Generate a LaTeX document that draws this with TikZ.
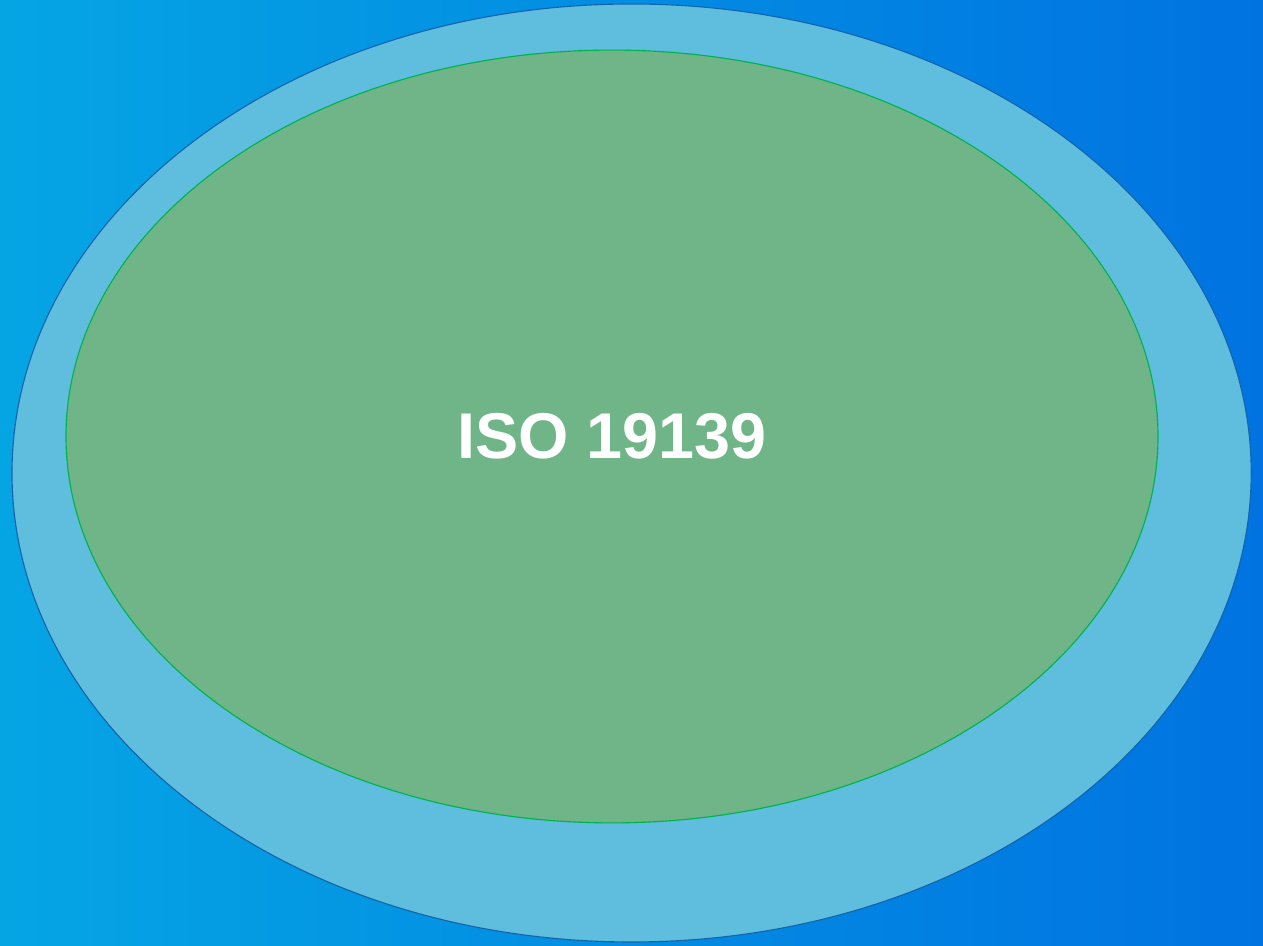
\documentclass[tikz,border=0pt]{standalone}
\usepackage{fontspec}
\setmainfont{Liberation Sans}
\usetikzlibrary{shapes.geometric}

\definecolor{bgleft}{RGB}{5,165,228}
\definecolor{bgright}{RGB}{0,115,225}
\definecolor{outerfill}{RGB}{95,190,222}
\definecolor{outerline}{RGB}{20,100,170}
\definecolor{innerfill}{RGB}{111,181,135}
\definecolor{innerline}{RGB}{0,178,80}

\begin{document}
\begin{tikzpicture}
		% 背景
		\shade[left color=bgleft, right color=bgright] (0, 0) rectangle (31.575, 23.65);
		\useasboundingbox (0, 0) rectangle (31.575, 23.65);
	
		% 楕円を描画
		\node[draw=outerline, thick, ellipse, fill=outerfill, inner sep=0pt, minimum width=30.98cm, minimum height=23.45cm] (outer) at (15.79, 11.825) {};
		\node[draw=innerline, thick, ellipse, fill=innerfill, inner sep=0pt, minimum width=27.3cm, minimum height=19.32cm, text=white, font=\fontsize{46}{50}\selectfont\bfseries] (inner) at (15.3, 12.7375) {ISO 19139};
	\end{tikzpicture}
\end{document}
